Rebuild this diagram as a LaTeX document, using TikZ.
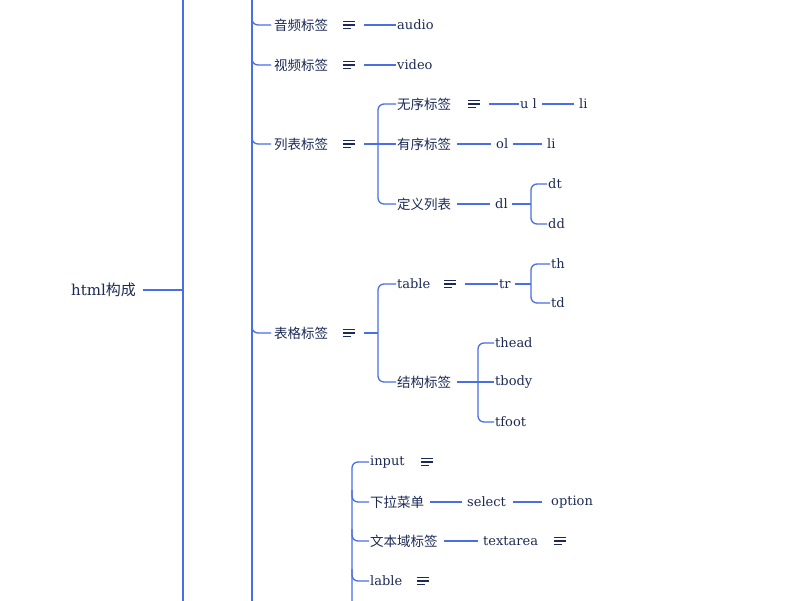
\documentclass[tikz,border=0pt]{standalone}
\usepackage{fontspec}
\setmainfont{DejaVu Serif}
\newfontfamily\cjk{Noto Sans CJK SC}
\usetikzlibrary{positioning, calc}

\definecolor{branch}{HTML}{4A6FE3}
\definecolor{ink}{HTML}{1C2A55}

\begin{document}
\begin{tikzpicture}[
    x=1pt, y=-1pt,
    every node/.style={text=ink, font=\fontsize{13}{15}\selectfont, inner sep=1pt, anchor=west},
    zh/.style={font=\cjk\fontsize{13.5}{15}\selectfont},
    menu/.style={minimum width=14pt, minimum height=10pt, inner sep=0pt,
        path picture={
            \draw[ink, line width=1.1pt]
              ($(path picture bounding box.west)+(1,-3.5)$) -- ++(12,0)
              ($(path picture bounding box.west)+(1,0)$) -- ++(12,0)
              ($(path picture bounding box.west)+(1,3.5)$) -- ++(8,0);
        }},
    link/.style={draw=branch, line width=1.3pt},
    fork/.style={draw=branch, line width=1.3pt, rounded corners=6pt},
    trunk/.style={draw=branch, line width=2pt},
]
\useasboundingbox (0,0) rectangle (800,600);

% root and trunks
\node (Root) at (70,290) [font=\fontsize{15}{17}\selectfont] {html\cjk 构成};
\draw[trunk] (183,-5) -- (183,605);
\draw[trunk] (252,-5) -- (252,605);
\draw[trunk] (Root.east) ++(6,0) -- (183,290);

% second level
\node (Audio) at (273,25) [zh] {音频标签};
\node (Video) at (273,65) [zh] {视频标签};
\node (List) at (273,144) [zh] {列表标签};
\node (Table) at (273,333) [zh] {表格标签};
\foreach \n in {Audio, Video, List, Table}
    \draw[fork] ($(\n.west)+(-21,-12)$) |- ($(\n.west)+(-2,0)$);

\node (AudioM) at (342,25) [menu] {};
\node (VideoM) at (342,65) [menu] {};
\node (ListM) at (342,144) [menu] {};
\node (TableM) at (342,333) [menu] {};

\node (AudioT) at (396,25) {audio};
\node (VideoT) at (396,65) {video};
\draw[link] (AudioM.east) ++(8,0) -- (AudioT.west);
\draw[link] (VideoM.east) ++(8,0) -- (VideoT.west);

% list tags
\node (Ul) at (396,104) [zh] {无序标签};
\node (Ol) at (396,144) [zh] {有序标签};
\node (Dl) at (396,204) [zh] {定义列表};
\draw[link] (ListM.east) ++(8,0) -- (Ol.west);
\draw[fork] (Ul.west) -| (378,144) |- (Dl.west);

\node (UlM) at (467,104) [menu] {};
\node (UlT) at (519,104) {u l};
\node (UlLi) at (578,104) {li};
\draw[link] (UlM.east) ++(8,0) -- (UlT.west);
\draw[link] ($(UlT.east)+(4,0)$) -- ($(UlLi.west)+(-4,0)$);

\node (OlT) at (495,144) {ol};
\node (OlLi) at (546,144) {li};
\draw[link] ($(Ol.east)+(5,0)$) -- ($(OlT.west)+(-4,0)$);
\draw[link] ($(OlT.east)+(4,0)$) -- ($(OlLi.west)+(-4,0)$);

\node (DlT) at (494,204) {dl};
\node (Dt) at (547,184) {dt};
\node (Dd) at (547,224) {dd};
\draw[link] ($(Dl.east)+(5,0)$) -- ($(DlT.west)+(-4,0)$);
\draw[link] (DlT.east) ++(3,0) -- (531,204);
\draw[fork] (Dt.west) -| (531,204) |- (Dd.west);

% table tags
\node (Tab) at (396,284) {table};
\node (Struct) at (396,382) [zh] {结构标签};
\draw[link] (TableM.east) ++(8,0) -- (378,333);
\draw[fork] (Tab.west) -| (378,333) |- (Struct.west);

\node (TabM) at (443,284) [menu] {};
\node (Tr) at (498,284) {tr};
\node (Th) at (550,264) {th};
\node (Td) at (550,303) {td};
\draw[link] (TabM.east) ++(8,0) -- (Tr.west);
\draw[link] (Tr.east) ++(3,0) -- (531,284);
\draw[fork] (Th.west) -| (531,284) |- (Td.west);

\node (Thead) at (494,343) {thead};
\node (Tbody) at (494,382) {tbody};
\node (Tfoot) at (494,422) {tfoot};
\draw[link] ($(Struct.east)+(5,0)$) -- (Tbody.west);
\draw[fork] (Thead.west) -| (478,382) |- (Tfoot.west);

% form tags
\node (Input) at (369,462) {input};
\node (Drop) at (369,502) [zh] {下拉菜单};
\node (Area) at (369,541) [zh] {文本域标签};
\node (Lable) at (369,581) {lable};
\draw[fork] (Input.west) -| (352,610);
\foreach \n in {Drop, Area, Lable}
    \draw[fork] ($(\n.west)+(-17,-12)$) |- (\n.west);

\node (InputM) at (420,462) [menu] {};
\node (Select) at (466,502) {select};
\node (Option) at (550,502) {option};
\draw[link] ($(Drop.east)+(5,0)$) -- ($(Select.west)+(-4,0)$);
\draw[link] ($(Select.east)+(6,0)$) -- ($(Option.west)+(-8,0)$);

\node (Textarea) at (482,541) {textarea};
\node (AreaM) at (553,541) [menu] {};
\draw[link] ($(Area.east)+(5,0)$) -- ($(Textarea.west)+(-4,0)$);

\node (LableM) at (416,581) [menu] {};
\end{tikzpicture}
\end{document}
